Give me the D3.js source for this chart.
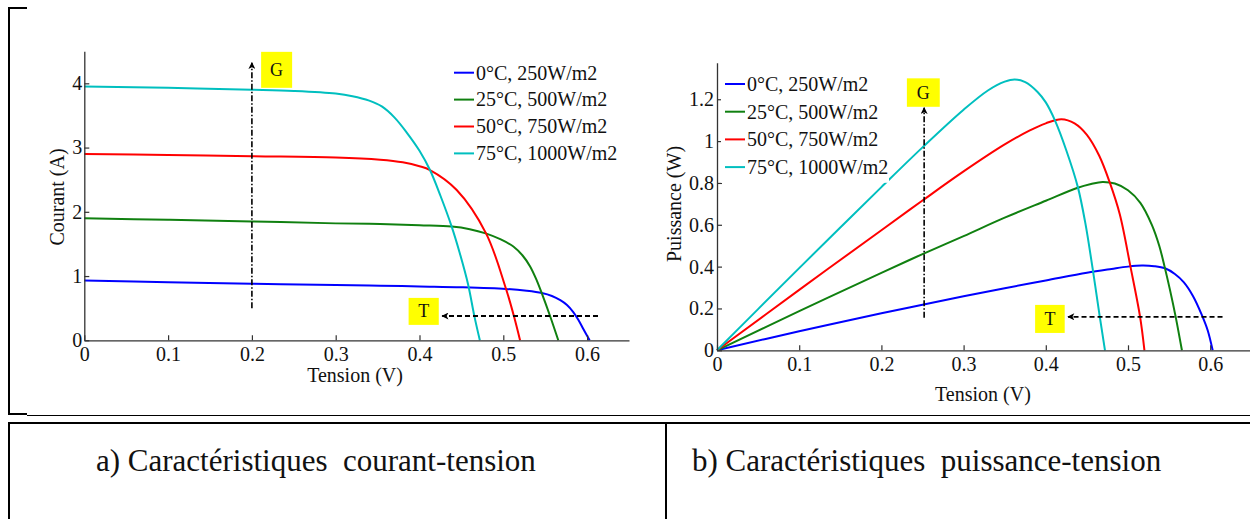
<!DOCTYPE html>
<html>
<head>
<meta charset="utf-8">
<script src="https://cdn.jsdelivr.net/npm/d3@7"></script>
<style>
  body { margin: 0; background: #fff; }
  text { font-family: "Liberation Serif", "Times New Roman", serif; fill: #111; }
</style>
</head>
<body>
<script>
// series labels and colours (MATLAB defaults)
var labels = ["0°C, 250W/m2", "25°C, 500W/m2", "50°C, 750W/m2", "75°C, 1000W/m2"];
var colors = ["#0000ff", "#108010", "#ff0000", "#00bfbf"];

// courant-tension : [V, I]
var ivBlue  = [[0,0.93],[0.1,0.905],[0.2,0.88],[0.3,0.86],[0.353,0.85],[0.4,0.838],[0.45,0.826],[0.503,0.80],[0.528,0.77],[0.546,0.735],[0.558,0.69],[0.568,0.625],[0.576,0.55],[0.5835,0.44],[0.5895,0.32],[0.5955,0.175],[0.603,0]];
var ivGreen = [[0,1.90],[0.1,1.875],[0.2,1.85],[0.3,1.82],[0.353,1.81],[0.4,1.79],[0.4384,1.77],[0.46,1.73],[0.479,1.665],[0.497,1.57],[0.512,1.46],[0.523,1.32],[0.532,1.15],[0.54,0.93],[0.546,0.73],[0.556,0.37],[0.5656,0]];
var ivRed   = [[0,2.90],[0.1,2.885],[0.2,2.865],[0.3,2.845],[0.353,2.81],[0.38,2.77],[0.4,2.71],[0.4125,2.65],[0.4444,2.34],[0.4794,1.665],[0.503,0.81],[0.5128,0.37],[0.52,0]];
var ivCyan  = [[0,3.95],[0.1,3.93],[0.2,3.90],[0.25,3.88],[0.3,3.84],[0.32,3.80],[0.34,3.73],[0.355,3.64],[0.37,3.47],[0.385,3.23],[0.4,2.95],[0.4125,2.65],[0.425,2.25],[0.4384,1.77],[0.448,1.36],[0.458,0.87],[0.4654,0.38],[0.472,0]];

// puissance-tension : [V, P]
var pvBlue  = [[0,0],[0.1,0.091],[0.2,0.177],[0.25,0.218],[0.3,0.258],[0.35,0.297],[0.4,0.334],[0.45,0.371],[0.48,0.389],[0.5,0.40],[0.517,0.405],[0.532,0.402],[0.545,0.392],[0.557,0.365],[0.568,0.325],[0.579,0.26],[0.5895,0.172],[0.597,0.095],[0.603,0]];
var pvGreen = [[0,0],[0.1,0.187],[0.2,0.37],[0.25,0.46],[0.3,0.546],[0.35,0.634],[0.4,0.715],[0.438,0.776],[0.455,0.795],[0.469,0.805],[0.484,0.797],[0.5,0.765],[0.515,0.705],[0.529,0.60],[0.538,0.50],[0.5445,0.40],[0.551,0.29],[0.558,0.16],[0.5656,0]];
var pvRed   = [[0,0],[0.1,0.289],[0.2,0.574],[0.25,0.716],[0.3,0.855],[0.35,0.984],[0.38,1.05],[0.4,1.085],[0.419,1.105],[0.435,1.085],[0.45,1.03],[0.465,0.93],[0.478,0.80],[0.49,0.65],[0.503,0.40],[0.5147,0.16],[0.52,0]];
var pvCyan  = [[0,0],[0.05,0.197],[0.1,0.393],[0.15,0.587],[0.2,0.78],[0.25,0.97],[0.3,1.15],[0.33,1.243],[0.35,1.284],[0.362,1.295],[0.375,1.282],[0.39,1.235],[0.4,1.185],[0.411,1.10],[0.425,0.955],[0.439,0.78],[0.448,0.61],[0.457,0.39],[0.4655,0.165],[0.472,0]];

// tick values
var vTicks = [0, 0.1, 0.2, 0.3, 0.4, 0.5, 0.6];
var iTicks = [0, 1, 2, 3, 4];
var pTicks = [0, 0.2, 0.4, 0.6, 0.8, 1, 1.2];

var captions = ["a) Caractéristiques  courant-tension", "b) Caractéristiques  puissance-tension"];

var serif = "'Liberation Serif', 'Times New Roman', serif";

var svg = d3.select("body").append("svg").attr("width", 1250).attr("height", 519);
svg.append("rect").attr("width", 1250).attr("height", 519).attr("fill", "#fff");

var defs = svg.append("defs");
defs.append("marker").attr("id", "head")
  .attr("viewBox", "0 0 10 10").attr("refX", 9).attr("refY", 5)
  .attr("markerWidth", 8).attr("markerHeight", 7).attr("markerUnits", "userSpaceOnUse")
  .attr("orient", "auto")
  .append("path").attr("d", "M0,0 L10,5 L0,10 L2.5,5 z").attr("fill", "#000");

function drawPanel(p) {
  var x = d3.scaleLinear().domain([0, 0.65]).range([p.left, p.right]);
  var y = d3.scaleLinear().domain([0, p.ymax]).range([p.bottom, p.top]);
  var g = svg.append("g");

  var line = d3.line().x(function(d){ return x(d[0]); }).y(function(d){ return y(d[1]); })
    .curve(d3.curveCatmullRom.alpha(0.5));
  p.series.forEach(function(s, i) {
    g.append("path").attr("d", line(s)).attr("fill", "none")
      .attr("stroke", colors[i]).attr("stroke-width", 2);
  });

  var xAxis = d3.axisBottom(x).tickValues(vTicks).tickFormat(d3.format("~g"))
    .tickSizeInner(-5).tickSizeOuter(0).tickPadding(7);
  var yAxis = d3.axisLeft(y).tickValues(p.yTicks).tickFormat(d3.format("~g"))
    .tickSizeInner(-5).tickSizeOuter(0).tickPadding(p.ypad);
  var gx = g.append("g").attr("transform", "translate(0," + p.bottom + ")").call(xAxis);
  var gy = g.append("g").attr("transform", "translate(" + p.left + ",0)").call(yAxis);
  [gx, gy].forEach(function(a) {
    a.attr("font-family", null);
    a.select(".domain").attr("stroke", "#333").attr("stroke-width", 1.3);
    a.selectAll(".tick line").attr("stroke", "#333").attr("stroke-width", 1.2);
    a.selectAll(".tick text").attr("font-size", 20).style("font-family", serif).attr("fill", "#111");
  });

  g.append("text").attr("x", (p.left + p.right) / 2 - p.xlabShift).attr("y", p.xlabY)
    .attr("text-anchor", "middle").attr("font-size", 20).style("font-family", serif).text("Tension (V)");
  g.append("text").attr("transform", "translate(" + p.ylabX + "," + p.ylabY + ") rotate(-90)")
    .attr("text-anchor", "middle").attr("font-size", 20).style("font-family", serif).text(p.ylab);

  // legend
  var lg = g.append("g");
  lg.append("rect").attr("x", p.legX - 4).attr("y", p.legY - 16)
    .attr("width", p.legW).attr("height", p.legStep * 4 + 4).attr("fill", "#fff");
  labels.forEach(function(t, i) {
    var ry = p.legY + i * p.legStep;
    lg.append("line").attr("x1", p.legX).attr("x2", p.legX + 20).attr("y1", ry).attr("y2", ry)
      .attr("stroke", colors[i]).attr("stroke-width", 2);
    lg.append("text").attr("x", p.legX + 22).attr("y", ry + 6.8).attr("font-size", 20)
      .style("font-family", serif).text(t);
  });

  // G : irradiation arrow (dash-dot), T : temperature arrow (dashed)
  var n = p.notes;
  g.append("line").attr("x1", x(n.gv)).attr("x2", x(n.gv)).attr("y1", y(n.gFrom)).attr("y2", y(n.gTo))
    .attr("stroke", "#000").attr("stroke-width", 1.6).attr("stroke-dasharray", "6,2,1.5,2")
    .attr("marker-end", "url(#head)");
  g.append("line").attr("x1", x(n.tFrom)).attr("x2", x(n.tTo)).attr("y1", y(n.tv)).attr("y2", y(n.tv))
    .attr("stroke", "#000").attr("stroke-width", 1.8).attr("stroke-dasharray", "5,3")
    .attr("marker-end", "url(#head)");
  [["G", n.gBox], ["T", n.tBox]].forEach(function(b) {
    var bx = b[1];
    g.append("rect").attr("x", x(bx[0])).attr("y", y(bx[3]))
      .attr("width", x(bx[1]) - x(bx[0])).attr("height", y(bx[2]) - y(bx[3])).attr("fill", "#ffff00");
    g.append("text").attr("x", (x(bx[0]) + x(bx[1])) / 2).attr("y", (y(bx[2]) + y(bx[3])) / 2 + 6)
      .attr("text-anchor", "middle").attr("font-size", 18).style("font-family", serif).text(b[0]);
  });
}

drawPanel({
  left: 84.3, right: 629, bottom: 340.3, top: 51.2, ymax: 4.5,
  series: [ivBlue, ivGreen, ivRed, ivCyan], yTicks: iTicks, ypad: 2,
  ylab: "Courant (A)", ylabX: 64, ylabY: 197, xlabY: 382, xlabShift: 1.6,
  legX: 454, legY: 72.7, legStep: 26.9, legW: 172,
  notes: { gv: 0.2, gFrom: 0.5, gTo: 4.32, gBox: [0.211, 0.248, 3.93, 4.49],
           tv: 0.378, tFrom: 0.613, tTo: 0.427, tBox: [0.387, 0.423, 0.24, 0.66] }
});

drawPanel({
  left: 717, right: 1251.3, bottom: 350.3, top: 62.65, ymax: 1.375,
  series: [pvBlue, pvGreen, pvRed, pvCyan], yTicks: pTicks, ypad: 3,
  ylab: "Puissance (W)", ylabX: 681, ylabY: 204, xlabY: 401, xlabShift: 1.2,
  legX: 725, legY: 84, legStep: 27.7, legW: 168,
  notes: { gv: 0.252, gFrom: 0.155, gTo: 1.16, gBox: [0.231, 0.271, 1.164, 1.30],
           tv: 0.16, tFrom: 0.615, tTo: 0.427, tBox: [0.387, 0.423, 0.083, 0.217] }
});

// frame of the figure and caption table
var frame = svg.append("g").attr("fill", "none").attr("stroke", "#000");
frame.append("path").attr("d", "M9,7V415").attr("stroke-width", 2);
frame.append("path").attr("d", "M8,8H27").attr("stroke-width", 2);
frame.append("path").attr("d", "M8,414H27").attr("stroke-width", 2);
frame.append("path").attr("d", "M27,415.5H1250").attr("stroke-width", 1.2);
frame.append("path").attr("d", "M8,423H1250").attr("stroke-width", 2.2);
frame.append("path").attr("d", "M9,423V519").attr("stroke-width", 2);
frame.append("path").attr("d", "M666,423V519").attr("stroke-width", 2);

svg.append("text").attr("x", 96).attr("y", 471).attr("font-size", 31).style("font-family", serif)
  .attr("xml:space", "preserve").style("white-space", "pre").text(captions[0]);
svg.append("text").attr("x", 692).attr("y", 471).attr("font-size", 31).style("font-family", serif)
  .attr("xml:space", "preserve").style("white-space", "pre").text(captions[1]);
</script>
</body>
</html>
